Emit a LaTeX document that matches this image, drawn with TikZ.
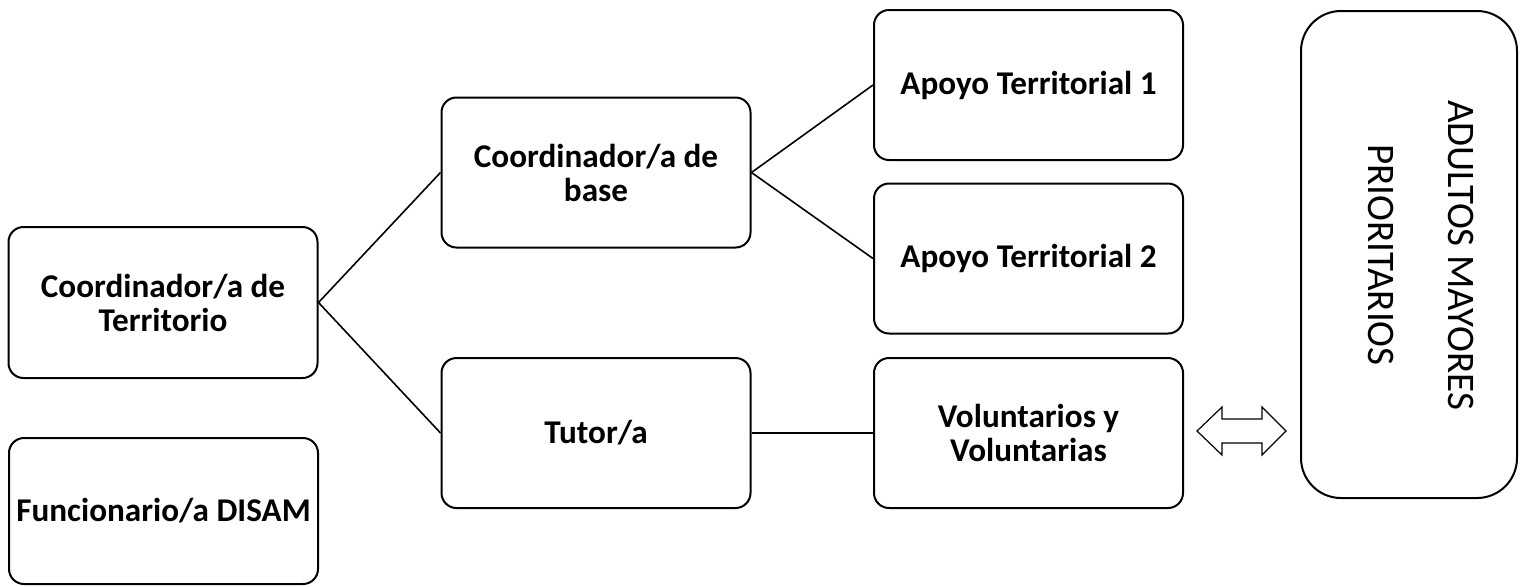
\documentclass[tikz,border=0pt]{standalone}
\usepackage{fontspec}
\setmainfont{Carlito}
\usetikzlibrary{positioning}
\begin{document}
\begin{tikzpicture}[x=0.5pt,y=-0.5pt,
  box/.style={draw=black, line width=1pt, rounded corners=7.5pt, align=center,
    minimum width=154.5pt, minimum height=75pt, inner sep=0pt,
    font=\fontsize{16.6pt}{17pt}\selectfont\bfseries},
  bigbox/.style={draw=black, line width=1pt, rounded corners=20pt,
    minimum width=108pt, minimum height=243.5pt, inner sep=0pt},
  link/.style={draw=black, line width=0.8pt},
  blockarrow/.style={draw=black, line width=0.6pt, fill=white, line join=miter}]
\useasboundingbox[fill=white] (0,0) rectangle (1525,586);
\node[box, minimum height=75.5pt] (terr) at (163,302.5) {Coordinador/a de\\Territorio};
\node[box, minimum height=73pt] (disam) at (163.5,511) {Funcionario/a DISAM};
\node[box] (base) at (596,172.5) {Coordinador/a de\\base};
\node[box] (tutor) at (596,433) {Tutor/a};
\node[box] (ap1) at (1028.5,85) {Apoyo Territorial 1};
\node[box] (ap2) at (1028.5,258.5) {Apoyo Territorial 2};
\node[box] (vol) at (1028.5,433) {Voluntarios y\\Voluntarias};
\node[bigbox] (adult) at (1409,254.5) {};
\node[rotate=-90, font=\fontsize{19.5pt}{20pt}\selectfont] (adl1) at (1461,255) {ADULTOS MAYORES};
\node[rotate=-90, font=\fontsize{19.5pt}{20pt}\selectfont] (adl2) at (1381,255) {PRIORITARIOS};
\draw[link] (terr.east) -- (base.west);
\draw[link] (terr.east) -- (tutor.west);
\draw[link] (base.east) -- (ap1.west);
\draw[link] (base.east) -- (ap2.west);
\draw[link] (tutor.east) -- (vol.west);
\coordinate (arr) at (1241,431);
\draw[blockarrow] ([shift={(-44,0)}]arr) -- ([shift={(-19,-24)}]arr) -- ([shift={(-19,-12)}]arr)
  -- ([shift={(21,-12)}]arr) -- ([shift={(21,-24)}]arr) -- ([shift={(45,0)}]arr)
  -- ([shift={(21,24)}]arr) -- ([shift={(21,12)}]arr) -- ([shift={(-19,12)}]arr)
  -- ([shift={(-19,24)}]arr) -- cycle;
\end{tikzpicture}
\end{document}
